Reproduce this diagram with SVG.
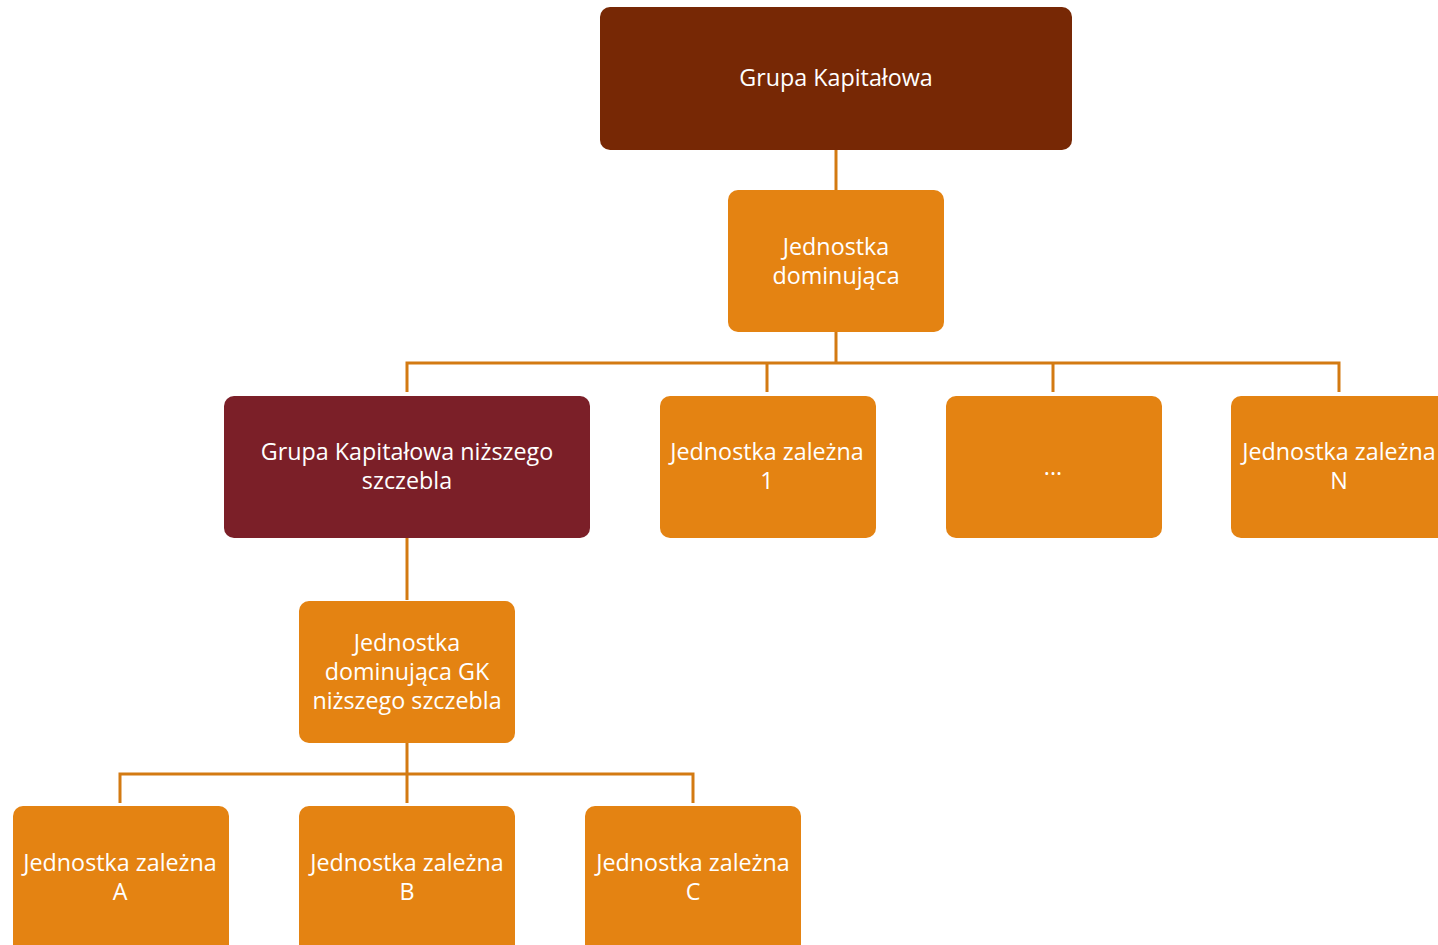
<svg xmlns="http://www.w3.org/2000/svg" width="1438" height="945" viewBox="0 0 1438 945">
<style>
.box{fill:#E48312}
.dark{fill:#772805}
.wine{fill:#7B1F28}
.t{font-family:"Open Sans","Noto Sans",sans-serif;font-size:23.3px;fill:#ffffff;text-anchor:middle}
.c{fill:none;stroke:#D37A12;stroke-width:3}
</style>
<rect width="1438" height="945" fill="#ffffff"/>
<g id="connectors">
<path class="c" d="M836,150 V190"/>
<path class="c" d="M836,332 V363 M407,392 V363 H1339 V392 M767,363 V392 M1053,363 V392"/>
<path class="c" d="M407,538 V600"/>
<path class="c" d="M407,743 V774 M120,803 V774 H693 V803 M407,774 V803"/>
</g>
<g id="n-gk"><rect class="dark" x="600" y="7" width="472" height="143" rx="10"/><text class="t" x="836" y="86">Grupa Kapitałowa</text></g>
<g id="n-dom"><rect class="box" x="728" y="190" width="216" height="142" rx="10"/><text class="t" x="836" y="255">Jednostka</text><text class="t" x="836" y="284">dominująca</text></g>
<g id="n-gkn"><rect class="wine" x="224" y="396" width="366" height="142" rx="10"/><text class="t" x="407" y="460">Grupa Kapitałowa niższego</text><text class="t" x="407" y="489">szczebla</text></g>
<g id="n-z1"><rect class="box" x="660" y="396" width="216" height="142" rx="10"/><text class="t" x="767" y="460">Jednostka zależna</text><text class="t" x="767" y="489">1</text></g>
<g id="n-dots"><rect class="box" x="946" y="396" width="216" height="142" rx="10"/><text class="t" x="1053" y="475">...</text></g>
<g id="n-zn"><rect class="box" x="1231" y="396" width="216" height="142" rx="10"/><text class="t" x="1339" y="460">Jednostka zależna</text><text class="t" x="1339" y="489">N</text></g>
<g id="n-dom2"><rect class="box" x="299" y="601" width="216" height="142" rx="10"/><text class="t" x="407" y="651">Jednostka</text><text class="t" x="407" y="680">dominująca GK</text><text class="t" x="407" y="709">niższego szczebla</text></g>
<g id="n-za"><rect class="box" x="13" y="806" width="216" height="150" rx="10"/><text class="t" x="120" y="871">Jednostka zależna</text><text class="t" x="120" y="900">A</text></g>
<g id="n-zb"><rect class="box" x="299" y="806" width="216" height="150" rx="10"/><text class="t" x="407" y="871">Jednostka zależna</text><text class="t" x="407" y="900">B</text></g>
<g id="n-zc"><rect class="box" x="585" y="806" width="216" height="150" rx="10"/><text class="t" x="693" y="871">Jednostka zależna</text><text class="t" x="693" y="900">C</text></g>
</svg>
